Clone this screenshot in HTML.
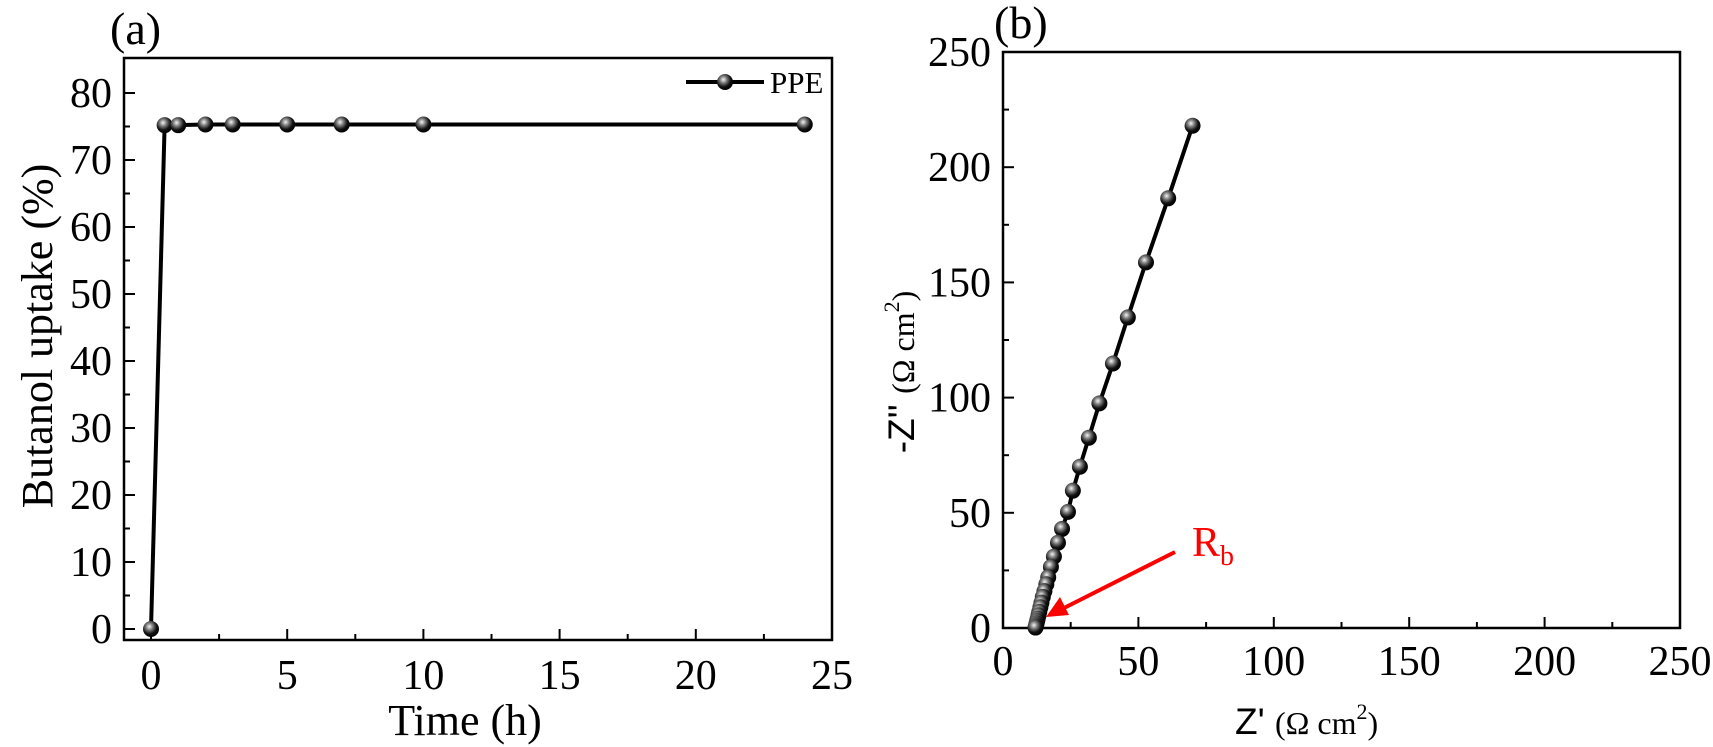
<!DOCTYPE html>
<html><head><meta charset="utf-8"><style>
html,body{margin:0;padding:0;background:#fff;}
svg{display:block;font-family:"Liberation Serif",serif;}
</style></head><body>
<svg id="chart" width="1713" height="747" viewBox="0 0 1713 747" xmlns="http://www.w3.org/2000/svg">
<defs>
<radialGradient id="ball" cx="0.4" cy="0.35" r="0.65">
<stop offset="0" stop-color="#f4f4f4"/><stop offset="0.35" stop-color="#777"/><stop offset="0.7" stop-color="#111"/><stop offset="1" stop-color="#000"/>
</radialGradient>
</defs>
<g id="pa"></g>
<g id="pb"></g>
</svg>
<script>
const timeH = [0, 0.5, 1, 2, 3, 5, 7, 10, 24];
const uptake = [0, 75.2, 75.2, 75.3, 75.3, 75.3, 75.3, 75.3, 75.3];
const aXTicks = [0, 5, 10, 15, 20, 25];
const aYTicks = [0, 10, 20, 30, 40, 50, 60, 70, 80];
const zReal = [70, 61, 52.8, 46.1, 40.6, 35.6, 31.7, 28.4, 25.8, 24, 21.8, 20.3, 18.8, 17.7, 16.7, 16, 15.3, 14.7, 14.2, 13.8, 13.4, 13.1, 12.8, 12.6, 12.4, 12.2, 12.1, 12];
const zImag = [218, 186.5, 158.7, 134.8, 114.8, 97.5, 82.6, 70, 59.6, 50.4, 43, 37, 31, 26.5, 22, 19, 16, 13.5, 11, 9, 7, 5.5, 4, 3, 2, 1.2, 0.6, 0.2];
const bTicks = [0, 50, 100, 150, 200, 250];

const NS = "http://www.w3.org/2000/svg";
function mk(parent, tag, attrs, text){const e=document.createElementNS(NS,tag);for(const k in attrs)e.setAttribute(k,attrs[k]);if(text!==undefined)e.textContent=text;parent.appendChild(e);return e;}

// Panel A
const A = document.getElementById('pa');
const ax = v => 151 + v*(832-151)/25;
const ay = v => 629 - v*6.7;
let f = mk(A,'rect',{x:124,y:58,width:708,height:582,fill:'none',stroke:'#000','stroke-width':2.5});


aXTicks.forEach((t,i)=>{
  let l=mk(A,'line',{x1:ax(t),x2:ax(t),y1:640,y2:629,stroke:'#000','stroke-width':2});
  
  
  if(i<aXTicks.length-1){let m=mk(A,'line',{x1:ax(t+2.5),x2:ax(t+2.5),y1:640,y2:634,stroke:'#000','stroke-width':2});
  
  }
  let tx=mk(A,'text',{x:ax(t),y:689,'font-size':42,'text-anchor':'middle'},String(t));
  
  
});
aYTicks.forEach((t,i)=>{
  let l=mk(A,'line',{x1:124,x2:135,y1:ay(t),y2:ay(t),stroke:'#000','stroke-width':2});
  
  
  if(i<aYTicks.length-1){let m=mk(A,'line',{x1:124,x2:130,y1:ay(t+5),y2:ay(t+5),stroke:'#000','stroke-width':2});
  
  }
  let tx=mk(A,'text',{x:112,y:ay(t)+14,'font-size':42,'text-anchor':'end'},String(t));
  
  
});
let pl=mk(A,'polyline',{points:timeH.map((t,i)=>ax(t)+','+ay(uptake[i])).join(' '),fill:'none',stroke:'#000','stroke-width':4});


timeH.forEach((t,i)=>{
  let c=mk(A,'circle',{cx:ax(t),cy:ay(uptake[i]),r:8,fill:'url(#ball)'});
  
  
});
let lg=mk(A,'g',{});


mk(lg,'line',{x1:686,x2:764,y1:82,y2:82,stroke:'#000','stroke-width':4});
mk(lg,'circle',{cx:725,cy:82,r:8,fill:'url(#ball)'});
mk(lg,'text',{x:770,y:93,'font-size':31},'PPE');
let tA=mk(A,'text',{x:110,y:44,'font-size':46},'(a)');


let xtA=mk(A,'text',{x:465,y:735,'font-size':44,'text-anchor':'middle'},'Time (h)');


let ytA=mk(A,'text',{x:0,y:0,'font-size':44,'text-anchor':'middle',transform:'translate(52,336) rotate(-90)'},'Butanol uptake (%)');



// Panel B
const B = document.getElementById('pb');
const bx = v => 1003 + v*(1680-1003)/250;
const by = v => 628 - v*(628-52)/250;
let fb=mk(B,'rect',{x:1003,y:52,width:677,height:576,fill:'none',stroke:'#000','stroke-width':2.5});


bTicks.forEach((t,i)=>{
  let l=mk(B,'line',{x1:bx(t),x2:bx(t),y1:628,y2:617,stroke:'#000','stroke-width':2});
  
  
  let l2=mk(B,'line',{x1:1003,x2:1014,y1:by(t),y2:by(t),stroke:'#000','stroke-width':2});
  
  
  if(i<bTicks.length-1){
    let m=mk(B,'line',{x1:bx(t+25),x2:bx(t+25),y1:628,y2:622,stroke:'#000','stroke-width':2});
    
    
    let m2=mk(B,'line',{x1:1003,x2:1009,y1:by(t+25),y2:by(t+25),stroke:'#000','stroke-width':2});
    
    
  }
  let tx=mk(B,'text',{x:bx(t),y:675,'font-size':42,'text-anchor':'middle'},String(t));
  
  
  let ty=mk(B,'text',{x:991,y:by(t)+14,'font-size':42,'text-anchor':'end'},String(t));
  
  
});
let plb=mk(B,'polyline',{points:zReal.map((x,i)=>bx(x)+','+by(zImag[i])).join(' '),fill:'none',stroke:'#000','stroke-width':4});


zReal.forEach((x,i)=>{
  let c=mk(B,'circle',{cx:bx(x),cy:by(zImag[i]),r:8,fill:'url(#ball)'});
  
  
});
let ar=mk(B,'g',{});


mk(ar,'line',{x1:1175,y1:552,x2:1064,y2:608,stroke:'#f00','stroke-width':4});
mk(ar,'polygon',{points:'1046,617 1060,597 1069,615',fill:'#f00'});
let rb=mk(B,'text',{x:1192,y:556,'font-size':42,fill:'#f00'});


mk(rb,'tspan',{},'R');
mk(rb,'tspan',{'font-size':28,dy:9},'b');
let tB=mk(B,'text',{x:994,y:38,'font-size':46},'(b)');


let xtB=mk(B,'text',{x:1235,y:734,'font-size':32});


mk(xtB,'tspan',{'font-family':'Liberation Sans, sans-serif','font-size':37},"Z' ");
mk(xtB,'tspan',{},'(Ω cm');
mk(xtB,'tspan',{'font-size':22,dy:-15},'2');
mk(xtB,'tspan',{dy:15},')');
let ytB=mk(B,'text',{x:0,y:0,'font-size':32,'text-anchor':'middle',transform:'translate(914,372) rotate(-90)'});


mk(ytB,'tspan',{'font-family':'Liberation Sans, sans-serif','font-size':37},"-Z'' ");
mk(ytB,'tspan',{},'(Ω cm');
mk(ytB,'tspan',{'font-size':22,dy:-15},'2');
mk(ytB,'tspan',{dy:15},')');
</script>
</body></html>
